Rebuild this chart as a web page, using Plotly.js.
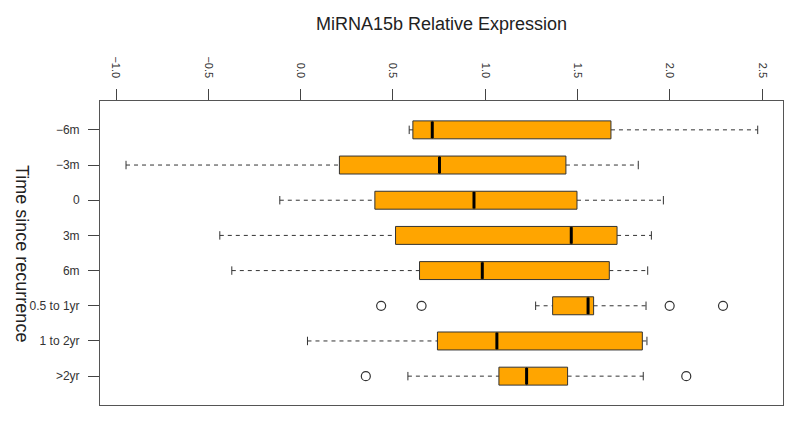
<!DOCTYPE html>
<html>
<head>
<meta charset="utf-8">
<script src="https://cdn.plot.ly/plotly-3.0.1.min.js"></script>
<style>html,body{margin:0;padding:0;background:#fff;}#chart{width:800px;height:424px;}</style>
</head>
<body>
<div id="chart"></div>
<script>
// Categories (top to bottom)
var categories = ['\u22126m', '\u22123m', '0', '3m', '6m', '0.5 to 1yr', '1 to 2yr', '>2yr'];
// Box statistics (MiRNA15b relative expression)
var lowerWhisker = [0.588, -0.946, -0.113, -0.438, -0.373, 1.273, 0.037, 0.581];
var q1Values     = [0.608,  0.210,  0.402,  0.514,  0.644, 1.365, 0.741, 1.074];
var medians      = [0.713,  0.752,  0.939,  1.466,  0.984, 1.557, 1.063, 1.224];
var q3Values     = [1.681,  1.437,  1.497,  1.714,  1.672, 1.587, 1.851, 1.446];
var upperWhisker = [2.476,  1.829,  1.965,  1.900,  1.880, 1.871, 1.876, 1.856];
// Outliers
var outlierGroup  = ['0.5 to 1yr', '0.5 to 1yr', '0.5 to 1yr', '0.5 to 1yr', '>2yr', '>2yr'];
var outlierValues = [0.436, 0.655, 1.999, 2.288, 0.353, 2.089];
// Axis ticks
var xTickVals = [-1.0, -0.5, 0.0, 0.5, 1.0, 1.5, 2.0, 2.5];
var xTickText = ['\u22121.0', '\u22120.5', '0.0', '0.5', '1.0', '1.5', '2.0', '2.5'];

var pos = categories.map(function (c, i) { return i; });
var halfBox = 0.255, halfCap = 0.12;
var dark = '#333333';
var font = 'Liberation Sans, Arial, Helvetica, sans-serif';

var boxTrace = {
  type: 'box', orientation: 'h', y: pos,
  q1: q1Values, median: medians, q3: q3Values,
  lowerfence: q1Values, upperfence: q3Values,
  width: 2 * halfBox, whiskerwidth: 0, boxpoints: false,
  fillcolor: '#FFA500', line: { color: dark, width: 1 },
  hoverinfo: 'skip', showlegend: false
};

var wx = [], wy = [], cx = [], cy = [], mx = [], my = [];
pos.forEach(function (p, i) {
  wx.push(lowerWhisker[i], q1Values[i], null, q3Values[i], upperWhisker[i], null);
  wy.push(p, p, null, p, p, null);
  cx.push(lowerWhisker[i], lowerWhisker[i], null, upperWhisker[i], upperWhisker[i], null);
  cy.push(p - halfCap, p + halfCap, null, p - halfCap, p + halfCap, null);
  mx.push(medians[i], medians[i], null);
  my.push(p - halfBox + 0.02, p + halfBox - 0.02, null);
});

var whiskers = { type: 'scatter', mode: 'lines', x: wx, y: wy,
  line: { color: dark, width: 1, dash: '4px,4px' }, hoverinfo: 'skip', showlegend: false };
var caps = { type: 'scatter', mode: 'lines', x: cx, y: cy,
  line: { color: dark, width: 1 }, hoverinfo: 'skip', showlegend: false };
var medianLines = { type: 'scatter', mode: 'lines', x: mx, y: my,
  line: { color: '#000', width: 3 }, hoverinfo: 'skip', showlegend: false };
var outliers = { type: 'scatter', mode: 'markers',
  x: outlierValues, y: outlierGroup.map(function (g) { return categories.indexOf(g); }),
  marker: { symbol: 'circle-open', size: 9, color: dark, line: { width: 1.2, color: dark } },
  hoverinfo: 'skip', showlegend: false };

var layout = {
  width: 800, height: 424,
  margin: { l: 100, r: 17, t: 101, b: 19 },
  paper_bgcolor: '#fff', plot_bgcolor: '#fff',
  font: { family: font, color: '#222' },
  title: { text: 'MiRNA15b Relative Expression', font: { size: 18, family: font, color: '#222' },
           xref: 'paper', x: 0.5, xanchor: 'center', yref: 'container', y: 1 - 24 / 424, yanchor: 'middle' },
  xaxis: {
    side: 'top', range: [-1.087, 2.613], tickmode: 'array', tickvals: xTickVals, ticktext: xTickText,
    tickangle: 90, ticks: 'outside', ticklen: 11, tickcolor: '#444', tickwidth: 1,
    ticklabelstandoff: 7,
    tickfont: { size: 11, family: font, color: '#333' },
    showline: true, mirror: true, linecolor: '#555', linewidth: 1,
    showgrid: false, zeroline: false, fixedrange: true
  },
  yaxis: {
    range: [7.82, -0.82], tickmode: 'array', tickvals: pos, ticktext: categories,
    ticks: 'outside', ticklen: 11, tickcolor: '#444', tickwidth: 1,
    ticklabelstandoff: 6,
    tickfont: { size: 12, family: font, color: '#333' },
    showline: true, mirror: true, linecolor: '#555', linewidth: 1,
    showgrid: false, zeroline: false, fixedrange: true
  },
  annotations: [{
    text: 'Time since recurrence', textangle: 90, showarrow: false,
    xref: 'paper', yref: 'paper', x: (22 - 100) / 683, y: 0.5, xanchor: 'center', yanchor: 'middle',
    font: { size: 18, family: font, color: '#222' }
  }]
};

Plotly.newPlot('chart', [boxTrace, whiskers, caps, medianLines, outliers], layout, { staticPlot: true, displayModeBar: false });
</script>
</body>
</html>
